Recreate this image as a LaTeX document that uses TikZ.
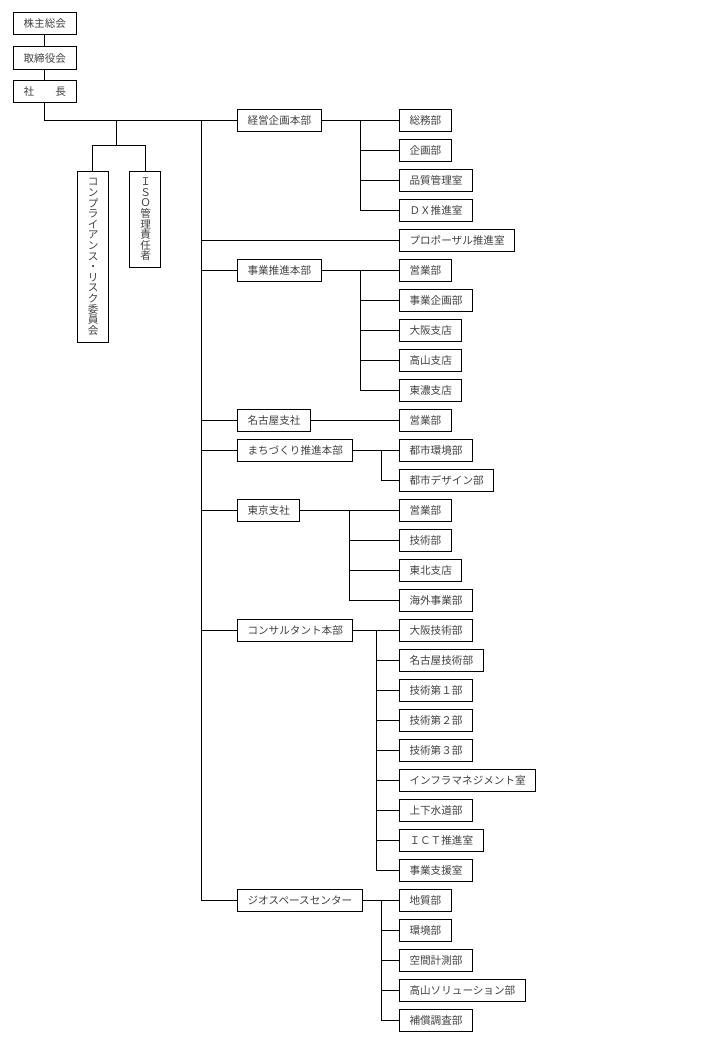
\documentclass[tikz,border=0pt]{standalone}
\usepackage{fontspec}
\setmainfont{Noto Sans CJK JP}
\usetikzlibrary{calc}

\begin{document}
\begin{tikzpicture}[x=1pt,y=-1pt,
 font={\fontsize{10.6}{10.6}\selectfont},
 box/.style={draw=black,line width=1pt,text=black!75,minimum height=22.5pt,inner xsep=10pt,inner ysep=0pt,anchor=west},
 tate/.style={draw=black,line width=1pt,text=black!75,text width=1em,align=center,inner xsep=10.5pt,inner ysep=0pt,anchor=north},
 ln/.style={line width=1pt}]
\useasboundingbox (0,0) rectangle (720,1040);
% top
\node[box,anchor=center] (kabu) at (44.8,23.7) {株主総会};
\node[box,anchor=center] (tori) at (44.8,58) {取締役会};
\node[box,anchor=center] (shacho) at (44.8,91.5) {社　　長};
\draw[ln] (kabu) -- (tori);
\draw[ln] (tori) -- (shacho);
% committees
\node[tate,minimum height=170.7pt] (comp) at (92.8,171) {コ\\ン\\プ\\ラ\\イ\\ア\\ン\\ス\\・\\リ\\ス\\ク\\委\\員\\会};
\node[tate,minimum height=95.7pt] (iso) at (145.3,171) {Ｉ\\Ｓ\\Ｏ\\管\\理\\責\\任\\者};
\coordinate (ibus) at (116,120.5);
\coordinate (ibus2) at (116,146);
\draw[ln] (ibus) -- (ibus2);
\draw[ln] (comp.north) -- (comp.north |- ibus2) -- (iso.north |- ibus2) -- (iso.north);
% level 1
\node[box] (keiei) at (237,120.5) {経営企画本部};
\node[box] (prop) at (399,240.5) {プロポーザル推進室};
\node[box] (jigyo) at (237,270.5) {事業推進本部};
\node[box] (nagoya) at (237,420.5) {名古屋支社};
\node[box] (machi) at (237,450.5) {まちづくり推進本部};
\node[box] (tokyo) at (237,510.5) {東京支社};
\node[box] (consul) at (237,630.5) {コンサルタント本部};
\node[box] (geo) at (237,900.5) {ジオスペースセンター};
\draw[ln] (shacho.south) |- (keiei.west);
\coordinate (trunk) at (201.7,120.5);
\draw[ln] (trunk) |- (geo.west);
\foreach \nm in {prop,jigyo,nagoya,machi,tokyo,consul}
 \draw[ln] (trunk |- \nm.west) -- (\nm.west);
% 経営企画本部
\foreach \nm/\txt [count=\i from 0] in {somu/総務部,kikaku/企画部,hinshitsu/品質管理室,dx/ＤＸ推進室}
 \node[box] (\nm) at (399,120.5+30*\i) {\txt};
\coordinate (kbus) at (360,120.5);
\draw[ln] (keiei.east) -- (somu.west);
\foreach \nm in {kikaku,hinshitsu,dx}
 \draw[ln] (kbus) |- (\nm.west);
% 事業推進本部
\foreach \nm/\txt [count=\i from 0] in {eigyoA/営業部,jkikaku/事業企画部,osaka/大阪支店,takayama/高山支店,tono/東濃支店}
 \node[box] (\nm) at (399,270.5+30*\i) {\txt};
\coordinate (jbus) at (360,270.5);
\draw[ln] (jigyo.east) -- (eigyoA.west);
\foreach \nm in {jkikaku,osaka,takayama,tono}
 \draw[ln] (jbus) |- (\nm.west);
% 名古屋支社
\node[box] (eigyoB) at (399,420.5) {営業部};
\draw[ln] (nagoya.east) -- (eigyoB.west);
% まちづくり推進本部
\node[box] (kankyo) at (399,450.5) {都市環境部};
\node[box] (design) at (399,480.5) {都市デザイン部};
\coordinate (mbus) at (381.7,450.5);
\draw[ln] (machi.east) -- (kankyo.west);
\draw[ln] (mbus) |- (design.west);
% 東京支社
\foreach \nm/\txt [count=\i from 0] in {eigyoC/営業部,gijutsu/技術部,tohoku/東北支店,kaigai/海外事業部}
 \node[box] (\nm) at (399,510.5+30*\i) {\txt};
\coordinate (tbus) at (349.3,510.5);
\draw[ln] (tokyo.east) -- (eigyoC.west);
\foreach \nm in {gijutsu,tohoku,kaigai}
 \draw[ln] (tbus) |- (\nm.west);
% コンサルタント本部
\foreach \nm/\txt [count=\i from 0] in {osakag/大阪技術部,nagoyag/名古屋技術部,gi1/技術第１部,gi2/技術第２部,gi3/技術第３部,infra/インフラマネジメント室,suido/上下水道部,ict/ＩＣＴ推進室,shien/事業支援室}
 \node[box] (\nm) at (399,630.5+30*\i) {\txt};
\coordinate (cbus) at (376.7,630.5);
\draw[ln] (consul.east) -- (osakag.west);
\foreach \nm in {nagoyag,gi1,gi2,gi3,infra,suido,ict,shien}
 \draw[ln] (cbus) |- (\nm.west);
% ジオスペースセンター
\foreach \nm/\txt [count=\i from 0] in {chishitsu/地質部,gkankyo/環境部,kukan/空間計測部,tsol/高山ソリューション部,hosho/補償調査部}
 \node[box] (\nm) at (399,900.5+30*\i) {\txt};
\coordinate (gbus) at (381.7,900.5);
\draw[ln] (geo.east) -- (chishitsu.west);
\foreach \nm in {gkankyo,kukan,tsol,hosho}
 \draw[ln] (gbus) |- (\nm.west);
\end{tikzpicture}
\end{document}
